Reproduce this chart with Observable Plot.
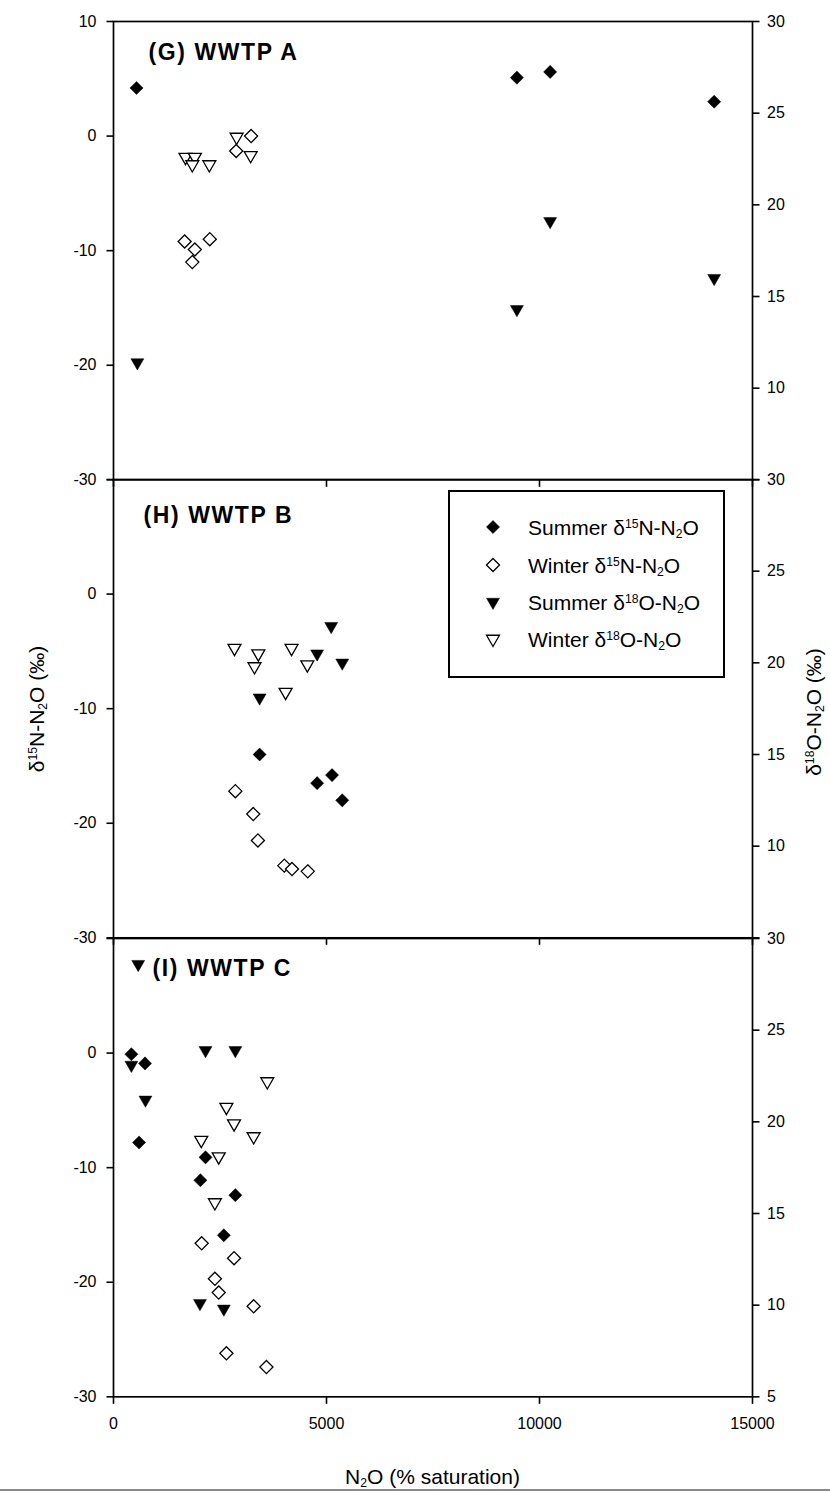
<!DOCTYPE html>
<html>
<head>
<meta charset="utf-8">
<script src="https://cdn.jsdelivr.net/npm/d3@7"></script>
<script src="https://cdn.jsdelivr.net/npm/@observablehq/plot@0.6"></script>
<style>
  body { margin: 0; background: #fff; }
  #wrap { position: relative; width: 830px; height: 1493px; overflow: hidden; background: #fff;
          font-family: "Liberation Sans", Arial, sans-serif; color: #000; }
  .ttl { position: absolute; white-space: nowrap; font-size: 21px; line-height: 1; }
  .ttl sup, .lg sup { font-size: 58%; vertical-align: 0.55em; line-height: 0; }
  .ttl sub, .lg sub { font-size: 58%; vertical-align: -0.25em; line-height: 0; }
  #legend { position: absolute; left: 448px; top: 490px; width: 277px; height: 188px; box-sizing: border-box;
            border: 2px solid #000; background: #fff; }
  .lg { position: absolute; left: 78px; font-size: 21px; line-height: 1; white-space: nowrap; transform: translateY(-50%); }
  .lgsym { position: absolute; left: 31px; width: 24px; height: 24px; }
</style>
</head>
<body>
<div id="wrap"></div>
<script>
// ---------------- data ----------------
const panelKeys = ["G", "H", "I"];
const panelTitles = ["(G) WWTP A", "(H) WWTP B", "(I) WWTP C"];
const xTicks = [0, 5000, 10000, 15000];
const leftTickValues = [10, 0, -10, -20, -30];
const rightTickValues = [30, 25, 20, 15, 10, 5];
const leftLabelsG = [10, 0, -10, -20, -30];
const leftLabelsH = [0, -10, -20, -30];
const leftLabelsI = [0, -10, -20, -30];
const rightLabelsG = [30, 25, 20, 15, 10];
const rightLabelsH = [30, 25, 20, 15, 10];
const rightLabelsI = [30, 25, 20, 15, 10, 5];
const seriesNames = ["Summer δ15N-N2O", "Winter δ15N-N2O", "Summer δ18O-N2O", "Winter δ18O-N2O"];

// Panel G (WWTP A)
const gSummerN_x = [540, 9470, 10250, 14100];
const gSummerN_y = [4.2, 5.1, 5.6, 3.0];
const gWinterN_x = [1670, 1910, 1850, 2260, 2880, 3230];
const gWinterN_y = [-9.2, -9.9, -11.0, -9.0, -1.3, 0.0];
const gSummerO_x = [560, 9470, 10250, 14100];
const gSummerO_y = [11.4, 14.3, 19.1, 16.0];
const gWinterO_x = [1690, 1910, 1850, 2250, 2890, 3220];
const gWinterO_y = [22.6, 22.6, 22.2, 22.2, 23.7, 22.7];

// Panel H (WWTP B)
const hSummerN_x = [3430, 4780, 5130, 5370];
const hSummerN_y = [-14.0, -16.5, -15.8, -18.0];
const hWinterN_x = [2860, 3280, 3390, 4010, 4190, 4560];
const hWinterN_y = [-17.2, -19.2, -21.5, -23.7, -24.0, -24.2];
const hSummerO_x = [3430, 4780, 5110, 5370];
const hSummerO_y = [18.1, 20.5, 22.0, 20.0];
const hWinterO_x = [2840, 3400, 3310, 4180, 4550, 4040];
const hWinterO_y = [20.8, 20.5, 19.8, 20.8, 19.9, 18.4];

// Panel I (WWTP C)
const iSummerN_x = [420, 740, 600, 2160, 2040, 2860, 2590];
const iSummerN_y = [-0.1, -0.9, -7.8, -9.1, -11.1, -12.4, -15.9];
const iWinterN_x = [2070, 2830, 2380, 2470, 3290, 2650, 3590];
const iWinterN_y = [-16.6, -17.9, -19.7, -20.9, -22.1, -26.2, -27.4];
const iSummerO_x = [580, 420, 750, 2160, 2860, 2030, 2590];
const iSummerO_y = [28.6, 23.1, 21.2, 23.9, 23.9, 10.1, 9.8];
const iWinterO_x = [3610, 2650, 2830, 3290, 2060, 2470, 2380];
const iWinterO_y = [22.2, 20.8, 19.9, 19.2, 19.0, 18.1, 15.6];

// ---------------- scales (left δ15N, right δ18O) ----------------
const L0 = -30, L1 = 10, R0 = 5, R1 = 30;
const toLeft = v => L0 + (v - R0) * (L1 - L0) / (R1 - R0);
const fromLeft = v => R0 + (v - L0) * (R1 - R0) / (L1 - L0);
const rows = (xs, ys, conv) => xs.map((x, i) => ({x, y: conv ? toLeft(ys[i]) : ys[i]}));

const FONT = '"Liberation Sans", Arial, sans-serif';
const triDown = {
  draw(ctx, size) {
    const y = -Math.sqrt(size / (3 * Math.sqrt(3)));
    ctx.moveTo(0, -2 * y);
    ctx.lineTo(-Math.sqrt(3) * y, y);
    ctx.lineTo(Math.sqrt(3) * y, y);
    ctx.closePath();
  }
};
const R_DIA = 5.9, R_TRI = 4.8;

const panelData = {
  G: {sN: rows(gSummerN_x, gSummerN_y), wN: rows(gWinterN_x, gWinterN_y), sO: rows(gSummerO_x, gSummerO_y, true), wO: rows(gWinterO_x, gWinterO_y, true),
      ll: leftLabelsG, rl: rightLabelsG},
  H: {sN: rows(hSummerN_x, hSummerN_y), wN: rows(hWinterN_x, hWinterN_y), sO: rows(hSummerO_x, hSummerO_y, true), wO: rows(hWinterO_x, hWinterO_y, true),
      ll: leftLabelsH, rl: rightLabelsH},
  I: {sN: rows(iSummerN_x, iSummerN_y), wN: rows(iWinterN_x, iWinterN_y), sO: rows(iSummerO_x, iSummerO_y, true), wO: rows(iWinterO_x, iWinterO_y, true),
      ll: leftLabelsI, rl: rightLabelsI}
};

// layout
const PH = 458.33;
const layout = {
  G: {top: 0, marginTop: 21, marginBottom: 0, titleDx: 35, titleDy: 31.5},
  H: {top: 21 + PH, marginTop: 0, marginBottom: 0, titleDx: 30, titleDy: 36.5},
  I: {top: 21 + 2 * PH, marginTop: 0, marginBottom: 97, titleDx: 39, titleDy: 30}
};

const wrap = document.getElementById("wrap");

panelKeys.forEach((k, idx) => {
  const d = panelData[k];
  const lay = layout[k];
  const last = k === "I";
  const svg = Plot.plot({
    width: 830,
    height: PH + lay.marginTop + lay.marginBottom,
    marginLeft: 113, marginRight: 78, marginTop: lay.marginTop, marginBottom: lay.marginBottom,
    x: {domain: [0, 15000]},
    y: {domain: [L0, L1]},
    style: {background: "none", overflow: "visible", fontFamily: FONT, color: "#000"},
    marks: [
      Plot.axisY({anchor: "left", ticks: leftTickValues, tickSize: 6.5, tickPadding: 10.5, fontSize: 16,
                  tickFormat: v => d.ll.includes(v) ? String(v) : "", label: null, stroke: "#000", strokeWidth: 1.6}),
      Plot.axisY({anchor: "right", ticks: rightTickValues.map(toLeft), tickSize: 6.5, tickPadding: 8, fontSize: 16,
                  tickFormat: v => { const r = Math.round(fromLeft(v)); return d.rl.includes(r) ? String(r) : ""; },
                  label: null, stroke: "#000", strokeWidth: 1.6}),
      Plot.axisX({anchor: "bottom", ticks: xTicks, tickSize: 7.5, tickPadding: 13, fontSize: 16,
                  tickFormat: v => last ? String(v) : "", label: null, stroke: "#000", strokeWidth: 1.6}),
      Plot.frame({stroke: "#000", strokeWidth: 1.7}),
      Plot.text([panelTitles[idx]], {frameAnchor: "top-left", text: t => t, dx: lay.titleDx, dy: lay.titleDy,
                  textAnchor: "start", lineAnchor: "middle", fontSize: 23, fontWeight: "bold", fill: "#000"}),
      Plot.dot(d.wO, {x: "x", y: "y", symbol: triDown, r: R_TRI, fill: "#fff", stroke: "#000", strokeWidth: 1.3}),
      Plot.dot(d.wN, {x: "x", y: "y", symbol: "diamond2", r: R_DIA, fill: "#fff", stroke: "#000", strokeWidth: 1.3}),
      Plot.dot(d.sO, {x: "x", y: "y", symbol: triDown, r: R_TRI, fill: "#000", stroke: "#000", strokeWidth: 0.5}),
      Plot.dot(d.sN, {x: "x", y: "y", symbol: "diamond2", r: R_DIA, fill: "#000", stroke: "#000", strokeWidth: 0.5})
    ]
  });
  svg.style.position = "absolute";
  svg.style.left = "0px";
  svg.style.top = lay.top + "px";
  d3.select(svg).selectAll('g[aria-label="text"] text').attr("letter-spacing", "1.6px");
  wrap.appendChild(svg);
});

// ---------------- axis titles ----------------
function addTitle(html, x, y, rot) {
  const el = document.createElement("div");
  el.className = "ttl";
  el.innerHTML = html;
  el.style.left = x + "px";
  el.style.top = y + "px";
  el.style.transform = "translate(-50%,-50%)" + (rot ? " rotate(-90deg)" : "");
  wrap.appendChild(el);
}
addTitle("δ<sup>15</sup>N-N<sub>2</sub>O (‰)", 35.5, 709, true);
addTitle("δ<sup>18</sup>O-N<sub>2</sub>O (‰)", 813, 712, true);
addTitle("N<sub>2</sub>O (% saturation)", 432.5, 1476, false);

// ---------------- legend ----------------
const legend = document.createElement("div");
legend.id = "legend";
wrap.appendChild(legend);
const legendLabels = [
  "Summer δ<sup>15</sup>N-N<sub>2</sub>O",
  "Winter δ<sup>15</sup>N-N<sub>2</sub>O",
  "Summer δ<sup>18</sup>O-N<sub>2</sub>O",
  "Winter δ<sup>18</sup>O-N<sub>2</sub>O"
];
const legendSyms = [
  {sym: d3.symbolDiamond2, r: R_DIA, fill: "#000"},
  {sym: d3.symbolDiamond2, r: R_DIA, fill: "#fff"},
  {sym: triDown, r: R_TRI, fill: "#000"},
  {sym: triDown, r: R_TRI, fill: "#fff"}
];
const rowY = [35, 72.5, 110, 146.5];
legendLabels.forEach((lab, i) => {
  const s = legendSyms[i];
  const sv = d3.create("svg").attr("class", "lgsym").attr("width", 24).attr("height", 24)
    .style("top", (rowY[i] - 12) + "px").attr("viewBox", "-12 -12 24 24");
  sv.append("path").attr("d", d3.symbol(s.sym, Math.PI * s.r * s.r)())
    .attr("fill", s.fill).attr("stroke", "#000").attr("stroke-width", s.fill === "#fff" ? 1.3 : 0.5);
  legend.appendChild(sv.node());
  const t = document.createElement("div");
  t.className = "lg";
  t.style.top = rowY[i] + "px";
  t.innerHTML = lab;
  legend.appendChild(t);
});

// bottom border line of the figure
const bl = document.createElement("div");
bl.style.cssText = "position:absolute;left:0;top:1489px;width:830px;height:2px;background:#8a8a8a;";
wrap.appendChild(bl);
</script>
</body>
</html>
